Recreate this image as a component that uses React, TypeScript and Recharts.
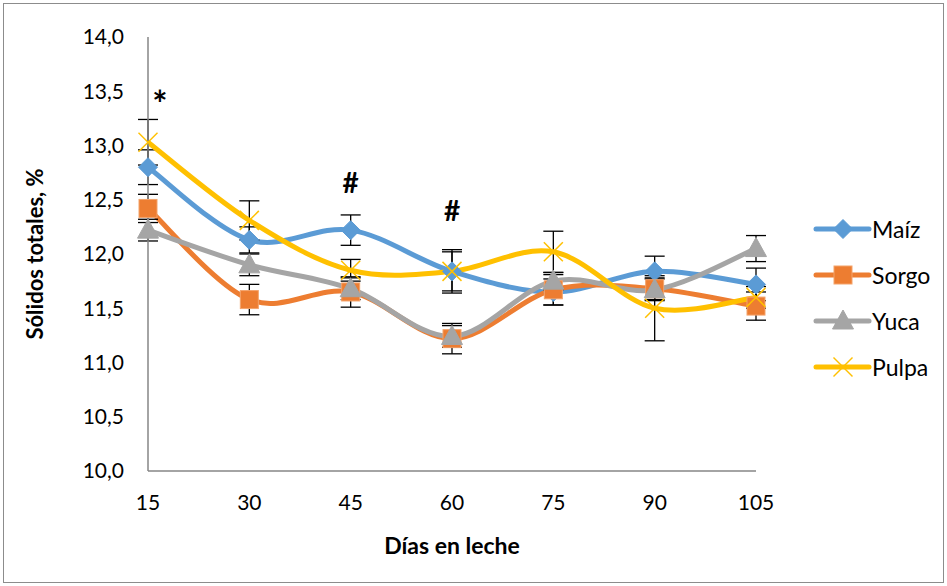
import { LineChart, Line, XAxis, YAxis, ErrorBar, ReferenceDot } from 'recharts';

const days = ['15', '30', '45', '60', '75', '90', '105'];
const maiz = [12.8, 12.13, 12.22, 11.84, 11.65, 11.84, 11.72];
const maizErr = [0.16, 0.12, 0.14, 0.18, 0.12, 0.14, 0.15];
const sorgo = [12.42, 11.58, 11.65, 11.22, 11.67, 11.68, 11.52];
const sorgoErr = [0.13, 0.14, 0.14, 0.14, 0.14, 0.1, 0.13];
const yuca = [12.22, 11.9, 11.68, 11.24, 11.75, 11.67, 12.05];
const yucaErr = [0.1, 0.1, 0.1, 0.1, 0.08, 0.1, 0.12];
const pulpa = [13.03, 12.31, 11.85, 11.84, 12.02, 11.5, 11.6];
const pulpaErr = [0.21, 0.18, 0.1, 0.2, 0.19, 0.3, 0.1];
const yTicks = [10, 10.5, 11, 11.5, 12, 12.5, 13, 13.5, 14];

const data = days.map((d, i) => ({
  dia: d,
  maiz: maiz[i], maizErr: maizErr[i],
  sorgo: sorgo[i], sorgoErr: sorgoErr[i],
  yuca: yuca[i], yucaErr: yucaErr[i],
  pulpa: pulpa[i], pulpaErr: pulpaErr[i],
}));

const FONT = 'Lato, "Open Sans", sans-serif';
const BLUE = '#5B9BD5';
const ORANGE = '#ED7D31';
const GRAY = '#A5A5A5';
const YELLOW = '#FFC000';

// suavizado tipo Excel (catmull-rom)
const excelCurve = (context: any) => {
  let pts: [number, number][] = [];
  return {
    areaStart() {},
    areaEnd() {},
    lineStart() { pts = []; },
    lineEnd() {
      if (!pts.length) return;
      context.moveTo(pts[0][0], pts[0][1]);
      for (let i = 0; i < pts.length - 1; i++) {
        const p0 = pts[i - 1] || pts[i];
        const p1 = pts[i];
        const p2 = pts[i + 1];
        const p3 = pts[i + 2] || p2;
        context.bezierCurveTo(
          p1[0] + (p2[0] - p0[0]) / 6, p1[1] + (p2[1] - p0[1]) / 6,
          p2[0] - (p3[0] - p1[0]) / 6, p2[1] - (p3[1] - p1[1]) / 6,
          p2[0], p2[1]
        );
      }
    },
    point(x: number, y: number) { pts.push([+x, +y]); },
  };
};

type Kind = 'diamond' | 'square' | 'triangle' | 'x';

function Marker({ kind, cx, cy }: { kind: Kind; cx: number; cy: number }) {
  if (kind === 'diamond')
    return <path d={`M${cx},${cy - 9.5}L${cx + 9.5},${cy}L${cx},${cy + 9.5}L${cx - 9.5},${cy}Z`} fill={BLUE} stroke={BLUE} strokeWidth={1} />;
  if (kind === 'square')
    return <rect x={cx - 9} y={cy - 9} width={18} height={18} fill={ORANGE} stroke="#F4A36B" strokeWidth={1} />;
  if (kind === 'triangle')
    return <path d={`M${cx},${cy - 11}L${cx + 10.5},${cy + 8}L${cx - 10.5},${cy + 8}Z`} fill={GRAY} stroke={GRAY} strokeWidth={1} />;
  return (
    <g stroke={YELLOW} strokeWidth={1.5}>
      <line x1={cx - 9.5} y1={cy - 9.5} x2={cx + 9.5} y2={cy + 9.5} />
      <line x1={cx - 9.5} y1={cy + 9.5} x2={cx + 9.5} y2={cy - 9.5} />
    </g>
  );
}

const dotFor = (kind: Kind) => (p: any) => <Marker key={`${kind}-${p.index}`} kind={kind} cx={p.cx} cy={p.cy} />;

const series: { key: string; name: string; color: string; kind: Kind }[] = [
  { key: 'maiz', name: 'Maíz', color: BLUE, kind: 'diamond' },
  { key: 'sorgo', name: 'Sorgo', color: ORANGE, kind: 'square' },
  { key: 'yuca', name: 'Yuca', color: GRAY, kind: 'triangle' },
  { key: 'pulpa', name: 'Pulpa', color: YELLOW, kind: 'x' },
];

function LegendBox() {
  return (
    <div style={{ position: 'absolute', left: 812, top: 206, width: 132, fontFamily: FONT, fontSize: 23, color: '#000' }}>
      {series.map((s) => (
        <div key={s.key} style={{ display: 'flex', alignItems: 'center', height: 46 }}>
          <svg width={60} height={24} style={{ flexShrink: 0, display: 'block' }}>
            <line x1={4} y1={12} x2={57} y2={12} stroke={s.color} strokeWidth={5} strokeLinecap="round" />
            <Marker kind={s.kind} cx={31} cy={12} />
          </svg>
          <span style={{ whiteSpace: 'nowrap' }}>{s.name}</span>
        </div>
      ))}
    </div>
  );
}

function YTitle({ viewBox }: any) {
  const x = 34;
  const y = viewBox.y + viewBox.height / 2;
  return (
    <text x={x} y={y} transform={`rotate(-90, ${x}, ${y})`} textAnchor="middle" dominantBaseline="central"
      fontFamily={FONT} fontSize={22} fontWeight="bold" fill="#000">
      Sólidos totales, %
    </text>
  );
}

const fmt = (v: number) => v.toFixed(1).replace('.', ',');
const markLabel = (t: string, size = 28) => ({ value: t, position: 'center' as const, fontFamily: FONT, fontSize: size, fontWeight: 'bold', fill: '#000' });

export default function App() {
  return (
    <div style={{ position: 'absolute', left: 0, top: 0, width: 947, height: 586, background: '#fff' }}>
      <div style={{ position: 'absolute', left: 3, top: 3, width: 939, height: 578, border: '1px solid #8c8c8c' }} />
      <LineChart width={947} height={586} data={data} margin={{ top: 37, right: 191, bottom: 0, left: 0 }}>
        <XAxis dataKey="dia" stroke="#868686" strokeWidth={1.5} tickLine={false} height={115} tickMargin={18}
          tick={{ fontFamily: FONT, fontSize: 21, fill: '#000' }}
          label={{ value: 'Días en leche', position: 'insideTop', offset: 67, fontFamily: FONT, fontSize: 23, fontWeight: 'bold', fill: '#000' }} />
        <YAxis domain={[10, 14]} ticks={yTicks} tickFormatter={fmt} stroke="#868686" strokeWidth={1.5} tickLine={false}
          width={148} tickMargin={18} tick={{ fontFamily: FONT, fontSize: 21, fill: '#000' }} label={<YTitle />} />
        {series.map((s) => (
          <Line key={s.key} dataKey={s.key} name={s.name} type={excelCurve as any} stroke={s.color} strokeWidth={5}
            dot={dotFor(s.kind)} activeDot={false} isAnimationActive={false}>
            <ErrorBar dataKey={`${s.key}Err`} width={10} stroke="#000" strokeWidth={1.3} direction="y" />
          </Line>
        ))}
        <ReferenceDot x="15" y={13.38} r={0} ifOverflow="visible" label={{ ...markLabel('*', 36), dx: 12 }} />
        <ReferenceDot x="45" y={12.65} r={0} ifOverflow="visible" label={markLabel('#')} />
        <ReferenceDot x="60" y={12.4} r={0} ifOverflow="visible" label={markLabel('#')} />
      </LineChart>
      <LegendBox />
    </div>
  );
}
